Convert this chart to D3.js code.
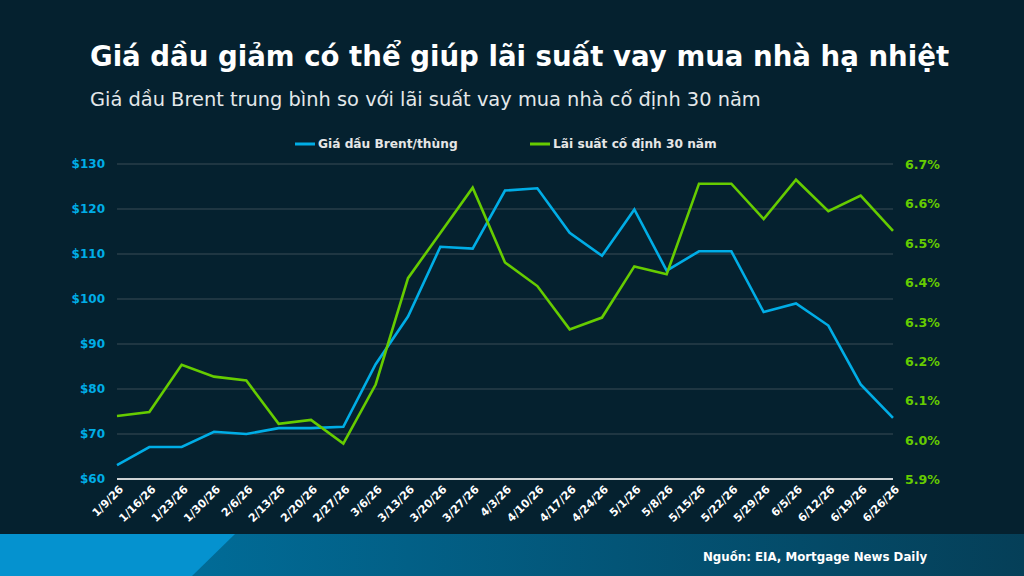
<!DOCTYPE html>
<html>
<head>
<meta charset="utf-8">
<script src="https://cdn.jsdelivr.net/npm/d3@7"></script>
<style>
  body { margin: 0; background: #05212f; }
  svg { display: block; font-family: "DejaVu Sans", sans-serif; }
</style>
</head>
<body>
<div id="chart"></div>
<script>
// data
var dates = ["1/9/26","1/16/26","1/23/26","1/30/26","2/6/26","2/13/26","2/20/26","2/27/26",
  "3/6/26","3/13/26","3/20/26","3/27/26","4/3/26","4/10/26","4/17/26","4/24/26","5/1/26",
  "5/8/26","5/15/26","5/22/26","5/29/26","6/5/26","6/12/26","6/19/26","6/26/26"];
var brent = [63.1, 67.1, 67.1, 70.5, 70.0, 71.3, 71.3, 71.6, 85.5, 96.1, 111.6, 111.2,
  124.1, 124.6, 114.7, 109.6, 119.9, 106.3, 110.6, 110.6, 97.1, 99.0, 94.1, 81.0, 73.6];
var rate30 = [6.06, 6.07, 6.19, 6.16, 6.15, 6.04, 6.05, 5.99, 6.14, 6.41, 6.525, 6.64,
  6.45, 6.39, 6.28, 6.31, 6.44, 6.42, 6.65, 6.65, 6.56, 6.66, 6.58, 6.62, 6.53];
var leftTicks = [60, 70, 80, 90, 100, 110, 120, 130];
var rightTicks = [5.9, 6.0, 6.1, 6.2, 6.3, 6.4, 6.5, 6.6, 6.7];

var W = 1024, H = 576;
var blue = "#00ade6", green = "#66cc00";

var svg = d3.select("#chart").append("svg")
  .attr("width", W).attr("height", H);

svg.append("rect").attr("width", W).attr("height", H).attr("fill", "#05212f");

// scales
var x = d3.scalePoint().domain(dates).range([117, 893]);
var yL = d3.scaleLinear().domain([60, 130]).range([479, 164]);
var yR = d3.scaleLinear().domain([5.9, 6.7]).range([479, 164]);

// title
svg.append("text")
  .attr("x", 90).attr("y", 66)
  .attr("fill", "#ffffff").attr("font-weight", "bold").attr("font-size", 27.6)
  .text("Giá dầu giảm có thể giúp lãi suất vay mua nhà hạ nhiệt");
svg.append("text")
  .attr("x", 90).attr("y", 106)
  .attr("fill", "#e4e8ea").attr("font-size", 19.4)
  .text("Giá dầu Brent trung bình so với lãi suất vay mua nhà cố định 30 năm");

// gridlines
svg.append("g").selectAll("line")
  .data(leftTicks.slice(1))
  .enter().append("line")
    .attr("x1", 117).attr("x2", 893)
    .attr("y1", function (d) { return yL(d); })
    .attr("y2", function (d) { return yL(d); })
    .attr("stroke", "#3b4d57").attr("stroke-width", 1);

svg.append("line")
  .attr("x1", 117).attr("x2", 893)
  .attr("y1", yL(60)).attr("y2", yL(60))
  .attr("stroke", "#cfd3d5").attr("stroke-width", 2);

// left axis labels
svg.append("g").selectAll("text")
  .data(leftTicks)
  .enter().append("text")
    .attr("x", 105)
    .attr("y", function (d) { return yL(d) + 4; })
    .attr("text-anchor", "end")
    .attr("fill", blue).attr("font-weight", "bold").attr("font-size", 12)
    .text(function (d) { return "$" + d; });

// right axis labels
svg.append("g").selectAll("text")
  .data(rightTicks)
  .enter().append("text")
    .attr("x", 905)
    .attr("y", function (d) { return yR(d) + 5; })
    .attr("fill", green).attr("font-weight", "bold").attr("font-size", 12.6)
    .text(function (d) { return d.toFixed(1) + "%"; });

// x labels
svg.append("g").selectAll("text")
  .data(dates)
  .enter().append("text")
    .attr("transform", function (d) { return "translate(" + (x(d) + 7) + ",490) rotate(-45)"; })
    .attr("text-anchor", "end")
    .attr("fill", "#ffffff").attr("font-weight", "bold").attr("font-size", 11)
    .text(function (d) { return d; });

// lines
var lineL = d3.line()
  .x(function (d, i) { return x(dates[i]); })
  .y(function (d) { return yL(d); });
var lineR = d3.line()
  .x(function (d, i) { return x(dates[i]); })
  .y(function (d) { return yR(d); });

svg.append("path").datum(brent)
  .attr("d", lineL).attr("fill", "none")
  .attr("stroke", blue).attr("stroke-width", 2.6).attr("stroke-linejoin", "miter");
svg.append("path").datum(rate30)
  .attr("d", lineR).attr("fill", "none")
  .attr("stroke", green).attr("stroke-width", 2.6).attr("stroke-linejoin", "miter");

// legend
var legend = [
  {name: "Giá dầu Brent/thùng", color: blue, x: 295},
  {name: "Lãi suất cố định 30 năm", color: green, x: 530}
];
legend.forEach(function (l) {
  svg.append("line")
    .attr("x1", l.x).attr("x2", l.x + 20)
    .attr("y1", 144).attr("y2", 144)
    .attr("stroke", l.color).attr("stroke-width", 3);
  svg.append("text")
    .attr("x", l.x + 23).attr("y", 148)
    .attr("fill", "#e6e6e6").attr("font-weight", "bold").attr("font-size", 12.2)
    .text(l.name);
});

// footer band
var defs = svg.append("defs");
var grad = defs.append("linearGradient").attr("id", "foot");
grad.append("stop").attr("offset", "0%").attr("stop-color", "#0076a6");
grad.append("stop").attr("offset", "100%").attr("stop-color", "#053f58");

svg.append("rect")
  .attr("x", 0).attr("y", 534).attr("width", W).attr("height", 42)
  .attr("fill", "url(#foot)");
svg.append("path")
  .attr("d", "M0,534 L235,534 L192,576 L0,576 Z")
  .attr("fill", "#0592cf");

svg.append("text")
  .attr("x", 703).attr("y", 561)
  .attr("fill", "#ffffff").attr("font-weight", "bold").attr("font-size", 11.8)
  .text("Nguồn: EIA, Mortgage News Daily");
</script>
</body>
</html>
